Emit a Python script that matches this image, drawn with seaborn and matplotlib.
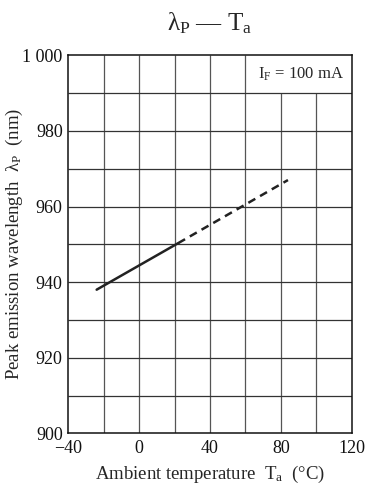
import pandas as pd
import seaborn as sns
import matplotlib.pyplot as plt

# Curve (solid = measured, dashed = extrapolated)
temp_solid = [-24, 22]
wl_solid = [938.0, 950.3]
temp_dashed = [22, 84]
wl_dashed = [950.3, 967.0]

x_ticks = [-40, 0, 40, 80, 120]
x_tick_labels = ["\u221240", "0", "40", "80", "120"]
y_ticks = [900, 920, 940, 960, 980, 1000]
y_tick_labels = ["900", "920", "940", "960", "980", "1 000"]
x_grid = [-20, 0, 20, 40, 60, 80, 100]
y_grid = [910, 920, 930, 940, 950, 960, 970, 980, 990]

df = pd.DataFrame({
    "temp": temp_solid + temp_dashed,
    "wl": wl_solid + wl_dashed,
    "segment": ["measured"] * len(temp_solid) + ["extrapolated"] * len(temp_dashed),
})

sns.set_theme(style="white")
plt.rcParams["font.family"] = ["Liberation Serif", "DejaVu Serif"]
plt.rcParams["mathtext.fontset"] = "custom"
plt.rcParams["mathtext.rm"] = "Liberation Serif"
plt.rcParams["mathtext.it"] = "Liberation Serif:italic"

fig = plt.figure(figsize=(3.66, 4.88), dpi=100)
ax = fig.add_axes([0.1866, 0.112, 0.7744, 0.7747])

# Grid: top row is left open on the right for the condition label
for x in x_grid:
    top = 990 if x >= 80 else 1000
    ax.vlines(x, 900, top, color="#555555", lw=0.9, zorder=1)
ax.hlines(y_grid, -40, 120, color="#333333", lw=0.9, zorder=1)

sns.lineplot(data=df, x="temp", y="wl", style="segment",
             dashes={"measured": "", "extrapolated": (3.2, 2.2)},
             color="#222222", lw=1.8, legend=False, ax=ax, zorder=3)

ax.set_xlim(-40, 120)
ax.set_ylim(900, 1000)
ax.set_xticks(x_ticks)
ax.set_xticklabels(x_tick_labels)
ax.set_yticks(y_ticks)
ax.set_yticklabels(y_tick_labels)
ax.tick_params(axis="both", length=0, labelsize=13, colors="#111111")
ax.tick_params(axis="x", pad=5)
ax.tick_params(axis="y", pad=4)

for s in ax.spines.values():
    s.set_color("#111111")
    s.set_linewidth(1.1)

ax.set_xlabel("Ambient temperature  T$_\\mathrm{a}$  (\u00b0C)", fontsize=13.5, labelpad=5)
ax.set_ylabel("Peak emission wavelength  \u03bb$_\\mathrm{P}$  (nm)", fontsize=13.5)
ax.yaxis.label.set_va("center")
ax.yaxis.set_label_coords(-0.19, 0.5)
ax.set_title("\u03bb$_\\mathrm{P}$ \u2014 T$_\\mathrm{a}$", fontsize=18, pad=18)
ax.text(116, 995, "I$_\\mathrm{F}$ = 100 mA", ha="right", va="center", fontsize=12)

fig.savefig("out.png", dpi=100)
